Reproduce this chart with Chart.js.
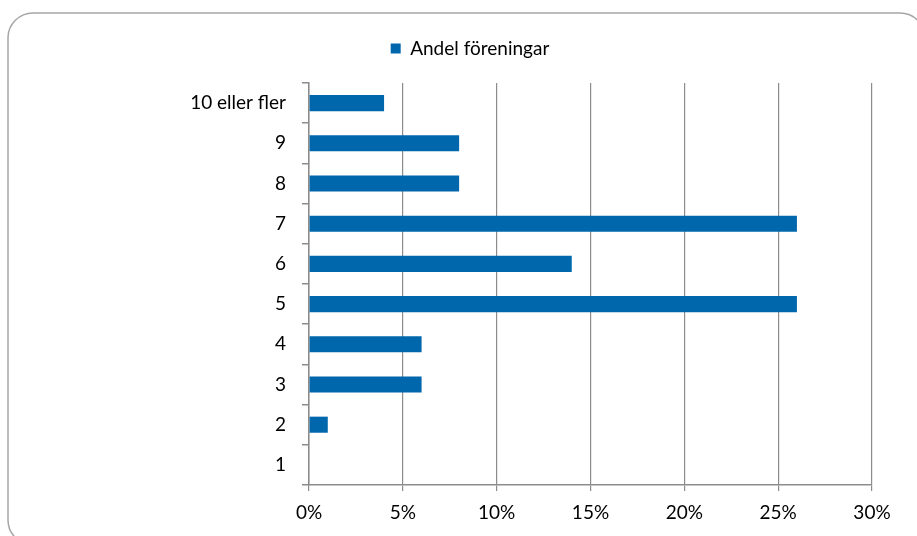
<!DOCTYPE html>
<html>
<head>
<meta charset="utf-8">
<script src="https://cdn.jsdelivr.net/npm/chart.js@4"></script>
<style>
html,body{margin:0;padding:0;background:#fff;}
#wrap{position:relative;width:917px;height:536px;overflow:hidden;}
canvas{display:block;}
</style>
</head>
<body>
<div id="wrap"><canvas id="c" width="917" height="536"></canvas></div>
<script>
const categories = ["10 eller fler", "9", "8", "7", "6", "5", "4", "3", "2", "1"];
const seriesName = "Andel föreningar";
const values = [4, 8, 8, 26, 14, 26, 6, 6, 1, 0];
const xTicks = [0, 5, 10, 15, 20, 25, 30];

const FONT = "Lato, 'Open Sans', sans-serif";
const GRID = "#8c8c8c";

const borderPlugin = {
  id: 'frame',
  beforeLayout(chart) {
    const lg = chart.legend;
    if (lg && !lg._patched) {
      lg._patched = true;
      const origFit = lg.fit;
      lg.fit = function () { origFit.call(this); this.height = 68; };
    }
  },
  beforeDraw(chart) {
    const ctx = chart.ctx;
    ctx.save();
    ctx.fillStyle = '#fff';
    ctx.fillRect(0, 0, chart.width, chart.height);
    ctx.strokeStyle = '#a6a6a6';
    ctx.lineWidth = 1.5;
    const x = 8, y = 13, w = 917, h = 532, r = 25;
    ctx.beginPath();
    ctx.moveTo(x + r, y);
    ctx.lineTo(x + w - r, y);
    ctx.arcTo(x + w, y, x + w, y + r, r);
    ctx.lineTo(x + w, y + h - r);
    ctx.arcTo(x + w, y + h, x + w - r, y + h, r);
    ctx.lineTo(x + r, y + h);
    ctx.arcTo(x, y + h, x, y + h - r, r);
    ctx.lineTo(x, y + r);
    ctx.arcTo(x, y, x + r, y, r);
    ctx.closePath();
    ctx.stroke();
    ctx.restore();
  }
};

new Chart(document.getElementById('c'), {
  type: 'bar',
  data: {
    labels: categories,
    datasets: [{
      label: seriesName,
      data: values,
      backgroundColor: '#0067AC',
      borderWidth: 0,
      categoryPercentage: 0.4,
      barPercentage: 1.0
    }]
  },
  options: {
    indexAxis: 'y',
    responsive: false,
    animation: false,
    devicePixelRatio: 1,
    layout: { padding: { left: 68, right: 45, top: 15, bottom: 0 } },
    plugins: {
      legend: {
        display: true,
        position: 'top',
        labels: {
          boxWidth: 10,
          boxHeight: 10,
          padding: 24,
          color: '#000',
          font: { family: FONT, size: 19 }
        }
      },
      tooltip: { enabled: false }
    },
    scales: {
      x: {
        type: 'linear',
        min: 0,
        max: 30,
        afterBuildTicks(scale) { scale.ticks = xTicks.map(v => ({ value: v })); },
        afterFit(scale) { scale.height = 536 - 485; },
        ticks: {
          color: '#000',
          padding: 10,
          font: { family: FONT, size: 19 },
          callback: v => v + '%'
        },
        grid: {
          color: GRID,
          lineWidth: 1.2,
          drawTicks: true,
          tickLength: 6,
          tickColor: GRID
        },
        border: { display: true, color: GRID, width: 1.5 }
      },
      y: {
        afterFit(scale) { scale.width = 309 - 68; },
        ticks: {
          color: '#000',
          padding: 16,
          font: { family: FONT, size: 19 }
        },
        grid: {
          offset: true,
          drawOnChartArea: false,
          drawTicks: true,
          tickLength: 7,
          color: GRID,
          lineWidth: 1.5
        },
        border: { display: true, color: GRID, width: 1.5 }
      }
    }
  },
  plugins: [borderPlugin]
});
</script>
</body>
</html>
